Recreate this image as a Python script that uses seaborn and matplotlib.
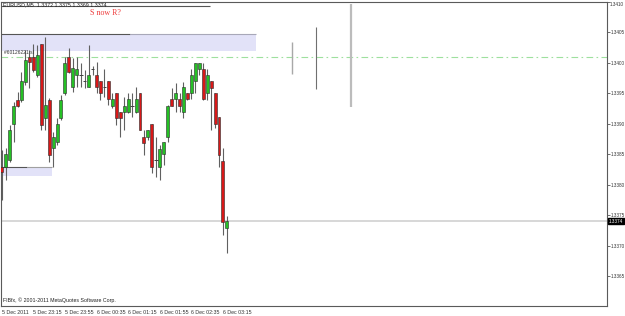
import numpy as np
import pandas as pd
import matplotlib
matplotlib.use("Agg")
import matplotlib.pyplot as plt
import seaborn as sns
from matplotlib.patches import Rectangle
from matplotlib.transforms import blended_transform_factory

sns.set_style("white")
plt.rcParams['font.family'] = ['Liberation Sans', 'DejaVu Sans']

# ---- data (EURUSD, M5) ----
opens = [1.33829, 1.33829, 1.33840, 1.33899, 1.33939, 1.33939, 1.33968, 1.34009, 1.34009, 1.33980,
         1.34030, 1.33909, 1.33939, 1.33860, 1.33870, 1.33909, 1.33950, 1.34009, 1.33960, 1.33980,
         1.33980, 1.33970, 1.33960, 1.33989, 1.33980, 1.33970, 1.33960, 1.33970, 1.33929, 1.33950,
         1.33919, 1.33919, 1.33919, 1.33929, 1.33919, 1.33950, 1.33878, 1.33878, 1.33899, 1.33840,
         1.33829, 1.33850, 1.33878, 1.33940, 1.33940, 1.33940, 1.33919, 1.33950, 1.33950, 1.33970,
         1.33989, 1.33989, 1.33950, 1.33970, 1.33950, 1.33911, 1.33839, 1.33729]
highs = [1.33857, 1.33860, 1.33898, 1.33935, 1.33952, 1.33984, 1.34020, 1.34020, 1.34030, 1.34029,
         1.34030, 1.34042, 1.33942, 1.33886, 1.33909, 1.33947, 1.34009, 1.34024, 1.34007, 1.34009,
         1.33999, 1.33988, 1.34029, 1.33994, 1.34001, 1.33970, 1.33989, 1.33970, 1.33950, 1.33950,
         1.33919, 1.33943, 1.33950, 1.33950, 1.33960, 1.33950, 1.33889, 1.33889, 1.33899, 1.33878,
         1.33865, 1.33870, 1.33930, 1.33958, 1.33966, 1.33950, 1.33968, 1.33950, 1.33989, 1.33999,
         1.33999, 1.33999, 1.33989, 1.33970, 1.33950, 1.33911, 1.33860, 1.33748]
lows = [1.33775, 1.33807, 1.33837, 1.33870, 1.33927, 1.33935, 1.33963, 1.33958, 1.33984, 1.33976,
        1.33889, 1.33889, 1.33837, 1.33829, 1.33865, 1.33906, 1.33947, 1.33983, 1.33952, 1.33960,
        1.33960, 1.33958, 1.33960, 1.33980, 1.33950, 1.33939, 1.33943, 1.33930, 1.33925, 1.33898,
        1.33878, 1.33889, 1.33917, 1.33911, 1.33917, 1.33889, 1.33848, 1.33873, 1.33819, 1.33812,
        1.33807, 1.33832, 1.33870, 1.33929, 1.33919, 1.33919, 1.33909, 1.33939, 1.33940, 1.33950,
        1.33980, 1.33939, 1.33939, 1.33889, 1.33893, 1.33829, 1.33717, 1.33688]
closes = [1.33821, 1.33850, 1.33889, 1.33929, 1.33929, 1.33970, 1.34004, 1.34001, 1.33988, 1.34012,
          1.33898, 1.33930, 1.33848, 1.33878, 1.33899, 1.33939, 1.33999, 1.33984, 1.33991, 1.33989,
          1.33980, 1.33970, 1.33980, 1.33989, 1.33960, 1.33950, 1.33960, 1.33940, 1.33940, 1.33909,
          1.33909, 1.33929, 1.33940, 1.33929, 1.33940, 1.33889, 1.33868, 1.33889, 1.33829, 1.33840,
          1.33858, 1.33870, 1.33929, 1.33929, 1.33950, 1.33929, 1.33960, 1.33940, 1.33980, 1.33999,
          1.33999, 1.33940, 1.33980, 1.33958, 1.33899, 1.33848, 1.33739, 1.33740]

time_tick_pos = [0, 8, 16, 24, 32, 40, 48, 56]
time_tick_labels = ["5 Dec 2011", "5 Dec 23:15", "5 Dec 23:55", "6 Dec 00:35",
                    "6 Dec 01:15", "6 Dec 01:55", "6 Dec 02:35", "6 Dec 03:15"]
price_ticks = [1.3365, 1.3370, 1.3375, 1.3380, 1.3385, 1.3390, 1.3395, 1.3400, 1.3405, 1.3410]
last_price = 1.3374
order_level = 1.34009

df = pd.DataFrame({"i": np.arange(len(opens)), "open": opens, "high": highs,
                   "low": lows, "close": closes})
df["up"] = df["close"] > df["open"]
df["down"] = df["close"] < df["open"]
df["doji"] = df["close"] == df["open"]
df["bottom"] = df[["open", "close"]].min(axis=1)
df["height"] = (df["close"] - df["open"]).abs()

fig = plt.figure(figsize=(6.25, 3.16), dpi=100)
ax = fig.add_axes([1 / 625, 10 / 316, 606 / 625, 304.5 / 316])
ax.set_xlim(-0.18, 153.2)
ax.set_ylim(1.33601, 1.34100)
ax.set_facecolor("white")

# zones
ax.add_patch(Rectangle((-0.18, 1.34019), 64.6, 0.00028, facecolor="#e2e2f8",
                       edgecolor="none", zorder=0))
ax.hlines(1.34047, -0.18, 32.5, color="#555555", lw=0.8, zorder=1)
ax.hlines(1.34047, 32.5, 64.4, color="#a8a8b8", lw=0.8, zorder=1)
ax.add_patch(Rectangle((-0.18, 1.33814), 12.9, 0.00015, facecolor="#e2e2f8",
                       edgecolor="none", zorder=0))
ax.hlines(1.33829, -0.18, 6.4, color="#555555", lw=0.8, zorder=1)
ax.hlines(1.33829, 6.4, 12.7, color="#a0a0a0", lw=0.8, zorder=1)
ax.hlines(1.34092, -0.18, 52.7, color="#555555", lw=0.8, zorder=1)

# order line and bid line
ax.axhline(order_level, color="#9ee09e", lw=0.8, linestyle=(0, (6, 3, 1.5, 3)), zorder=1)
ax.axhline(last_price, color="#d4d4d4", lw=1.3, zorder=1)

# vertical marks
ax.vlines(73.4, 1.33981, 1.34034, color="#a8a8a8", lw=1.0)
ax.vlines(79.5, 1.33957, 1.34058, color="#707070", lw=0.8)
ax.vlines(88.4, 1.33927, 1.34096, color="#bcbcbc", lw=1.6)

# candles
ax.vlines(df["i"], df["low"], df["high"], color="#606060", lw=0.8, zorder=2)
up = df[df["up"]]
dn = df[df["down"]]
dj = df[df["doji"]]
ax.bar(up["i"], up["height"], bottom=up["bottom"], width=0.75, color="#25c025",
       edgecolor="#2a2a2a", linewidth=0.4, zorder=3)
ax.bar(dn["i"], dn["height"], bottom=dn["bottom"], width=0.75, color="#d81818",
       edgecolor="#2a2a2a", linewidth=0.4, zorder=3)
ax.hlines(dj["open"], dj["i"] - 0.45, dj["i"] + 0.45, color="#404040", lw=0.7, zorder=3)

# axes styling
for s in ax.spines.values():
    s.set_color("#5a5a5a")
    s.set_linewidth(0.8)
ax.yaxis.tick_right()
ax.set_yticks(price_ticks)
ax.set_yticklabels([f"{p:.4f}" for p in price_ticks[:-1]] + [""])
ax.tick_params(axis="y", length=2, width=0.5, pad=1, labelsize=3.3, colors="#333333")
ax.set_xticks(time_tick_pos)
ax.set_xticklabels(time_tick_labels, ha="left")
ax.tick_params(axis="x", length=2, width=0.5, pad=1, labelsize=3.8, colors="#333333")
ax.grid(False)

trans = blended_transform_factory(ax.transAxes, ax.transData)
ax.text(1.0045, price_ticks[-1], f"{price_ticks[-1]:.4f}", transform=trans, fontsize=3.3,
        color="#333333", va="top", ha="left")
ax.text(1.003, last_price, "1.3374", transform=trans, fontsize=3.3, color="white",
        va="center", ha="left",
        bbox=dict(boxstyle="square,pad=0.15", facecolor="black", edgecolor="black"))

# texts
fig.text(3 / 625, 1 - 4.5 / 316, "EURUSD,M5  1.3372 1.3375 1.3369 1.3374",
         fontsize=3.8, color="#222222", va="center", ha="left")
fig.text(90 / 625, 1 - 13 / 316, "S now R?", fontsize=5.8, color="#ee3b3b",
         family=["Liberation Serif", "DejaVu Serif"], va="center", ha="left")
fig.text(4 / 625, 1 - 53 / 316, "#60126221 sl", fontsize=3.5, color="#333333",
         va="center", ha="left")
fig.text(3 / 625, 1 - 300 / 316, "FIBfx, \u00a9 2001-2011 MetaQuotes Software Corp.",
         fontsize=3.8, color="#222222", va="center", ha="left")

fig.savefig("out.png", dpi=100, facecolor="white")
